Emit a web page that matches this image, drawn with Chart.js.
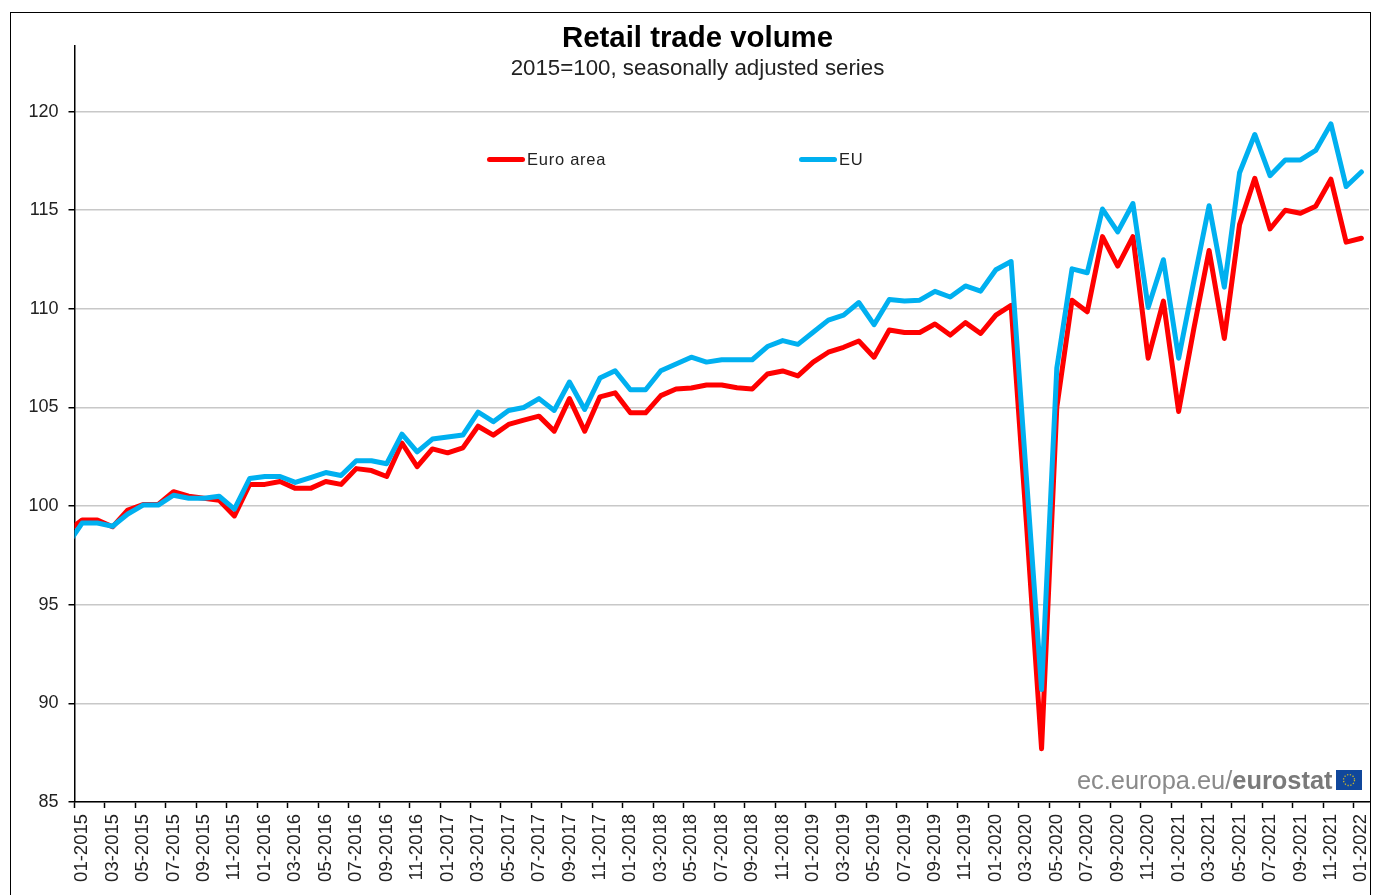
<!DOCTYPE html>
<html>
<head>
<meta charset="utf-8">
<title>Retail trade volume</title>
<script src="https://cdn.jsdelivr.net/npm/chart.js@4"></script>
<style>
    html, body { margin: 0; padding: 0; background: #fff; overflow: hidden; }
    body { width: 1376px; height: 895px; position: relative; font-family: "Liberation Sans", Arial, sans-serif; }
    #grafico { position: absolute; left: 0; top: 0; }
    #moldura { position: absolute; left: 10px; top: 12px; width: 1359px; height: 900px; border: 1.5px solid #000; pointer-events: none; }
    .legenda { position: absolute; top: 149px; height: 20px; line-height: 20px; font-size: 16.5px; letter-spacing: .75px; color: #222; white-space: nowrap; }
    .legenda i { display: inline-block; width: 38px; height: 5px; border-radius: 3px; vertical-align: middle; margin-right: 2px; position: relative; top: -1px; }
    #marca { position: absolute; left: 1077px; top: 765px; height: 30px; line-height: 30px; font-size: 25.4px; color: #8a8a8a; white-space: nowrap; }
    #marca b { color: #7a7a7a; }
    #bandeira { position: absolute; left: 1336px; top: 770px; }
</style>
</head>
<body>
<canvas id="grafico" width="1376" height="895"></canvas>
<div id="moldura"></div>
<div id="marca">ec.europa.eu/<b>eurostat</b></div>
<svg id="bandeira" width="26" height="20" viewBox="0 0 26 20">
    <rect width="26" height="20" fill="#10479c"/>
    <circle cx="13" cy="10" r="5.5" fill="none" stroke="#c9b62a" stroke-width="1.3" stroke-dasharray="1.3 1.6"/>
</svg>
<script>
const titulo = 'Retail trade volume';
const subtitulo = '2015=100, seasonally adjusted series';

const categorias = [
    '01-2015','02-2015','03-2015','04-2015','05-2015','06-2015','07-2015','08-2015','09-2015','10-2015','11-2015','12-2015',
    '01-2016','02-2016','03-2016','04-2016','05-2016','06-2016','07-2016','08-2016','09-2016','10-2016','11-2016','12-2016',
    '01-2017','02-2017','03-2017','04-2017','05-2017','06-2017','07-2017','08-2017','09-2017','10-2017','11-2017','12-2017',
    '01-2018','02-2018','03-2018','04-2018','05-2018','06-2018','07-2018','08-2018','09-2018','10-2018','11-2018','12-2018',
    '01-2019','02-2019','03-2019','04-2019','05-2019','06-2019','07-2019','08-2019','09-2019','10-2019','11-2019','12-2019',
    '01-2020','02-2020','03-2020','04-2020','05-2020','06-2020','07-2020','08-2020','09-2020','10-2020','11-2020','12-2020',
    '01-2021','02-2021','03-2021','04-2021','05-2021','06-2021','07-2021','08-2021','09-2021','10-2021','11-2021','12-2021',
    '01-2022'
];

const euroArea = [
    99.3, 99.3, 98.95, 99.8, 100.08, 100.08, 100.73, 100.5, 100.4, 100.3, 99.5, 101.1,
    101.1, 101.25, 100.9, 100.9, 101.25, 101.1, 101.9, 101.8, 101.5, 103.2, 102.0, 102.9,
    102.7, 102.95, 104.05, 103.6, 104.14, 104.36, 104.56, 103.8, 105.45, 103.8, 105.54, 105.74,
    104.73, 104.73, 105.6, 105.94, 105.99, 106.14, 106.14, 106.0, 105.94, 106.7, 106.85, 106.6,
    107.3, 107.8, 108.05, 108.37, 107.55, 108.93, 108.8, 108.8, 109.23, 108.67, 109.3, 108.75,
    109.68, 110.18, 99.2, 87.7, 105.0, 110.44, 109.85, 113.66, 112.17, 113.66, 107.5, 110.39,
    104.8, 109.0, 112.96, 108.5, 114.27, 116.62, 114.05, 115.0, 114.85, 115.2, 116.57, 113.38,
    113.58
];

const eu = [
    99.14, 99.14, 98.98, 99.6, 100.05, 100.05, 100.55, 100.4, 100.4, 100.5, 99.85, 101.4,
    101.5, 101.5, 101.2, 101.45, 101.7, 101.55, 102.3, 102.3, 102.15, 103.65, 102.75, 103.4,
    103.5, 103.6, 104.77, 104.28, 104.85, 105.0, 105.45, 104.85, 106.29, 104.9, 106.49, 106.86,
    105.9, 105.9, 106.86, 107.2, 107.55, 107.3, 107.42, 107.42, 107.42, 108.09, 108.39, 108.2,
    108.81, 109.43, 109.68, 110.32, 109.2, 110.47, 110.4, 110.44, 110.89, 110.6, 111.16, 110.9,
    111.98, 112.4, 101.5, 90.7, 107.0, 112.03, 111.83, 115.06, 113.9, 115.34, 110.07, 112.49,
    107.5, 111.4, 115.23, 111.1, 116.9, 118.84, 116.75, 117.55, 117.55, 118.03, 119.38, 116.2,
    116.94
];

// 12-2014, before the axis: only the stub of its segment shows
const euroAreaAntes = 98.7;
const euAntes = 98.0;

const fonte = '"Liberation Sans", Arial, sans-serif';

function pontos(valores, antes) {
    const lista = [{ x: -0.5, y: antes }];
    valores.forEach((v, i) => lista.push({ x: i + 0.5, y: v }));
    return lista;
}

const grafico = new Chart(document.getElementById('grafico'), {
    type: 'line',
    data: {
        datasets: [
            { label: 'Euro area', data: pontos(euroArea, euroAreaAntes), borderColor: '#ff0000', backgroundColor: '#ff0000', order: 2 },
            { label: 'EU', data: pontos(eu, euAntes), borderColor: '#00b0f0', backgroundColor: '#00b0f0', order: 1 }
        ]
    },
    options: {
        responsive: false,
        animation: false,
        layout: { autoPadding: false, padding: { left: 18, right: -1 } },
        elements: {
            line: { borderWidth: 5, tension: 0, borderJoinStyle: 'round', borderCapStyle: 'round' },
            point: { radius: 0 }
        },
        datasets: { line: { clip: 0 } },
        plugins: {
            legend: { display: false },
            tooltip: { enabled: false },
            title: {
                display: true,
                text: titulo,
                color: '#000',
                font: { family: fonte, size: 29.4, weight: 'bold', lineHeight: 1 },
                padding: { top: 23.8, bottom: -7.7 }
            },
            subtitle: {
                display: true,
                text: subtitulo,
                color: '#222',
                font: { family: fonte, size: 22.3, lineHeight: 1 },
                padding: { top: 11.85, bottom: -34.15 }
            }
        },
        scales: {
            x: {
                type: 'linear',
                min: 0,
                max: 85,
                afterFit: s => { s.height = 93; s.paddingRight = 7; },
                grid: { drawOnChartArea: false, tickLength: 6, tickColor: '#000', tickWidth: 1.5 },
                border: { color: '#000', width: 1.5 },
                ticks: {
                    stepSize: 2,
                    includeBounds: false,
                    autoSkip: false,
                    minRotation: 90,
                    maxRotation: 90,
                    labelOffset: 7.6,
                    padding: 6,
                    color: '#222',
                    font: { family: fonte, size: 18.5 },
                    callback: v => categorias[v]
                }
            },
            y: {
                min: 85,
                max: 123.35,
                afterFit: s => { s.width = 56.5; },
                grid: { color: '#c8c8c8', lineWidth: 1.5, tickLength: 6, tickColor: '#000', tickWidth: 1.5 },
                border: { color: '#000', width: 1.5 },
                ticks: {
                    stepSize: 5,
                    includeBounds: false,
                    padding: 10,
                    color: '#222',
                    font: { family: fonte, size: 18 }
                }
            }
        }
    }
});

// legend sits inside the plot, far apart, so it is built outside the canvas
const posicoesLegenda = [487, 799];
grafico.data.datasets.forEach((ds, i) => {
    const item = document.createElement('div');
    item.className = 'legenda';
    item.style.left = posicoesLegenda[i] + 'px';
    const traco = document.createElement('i');
    traco.style.background = ds.borderColor;
    item.appendChild(traco);
    item.appendChild(document.createTextNode(ds.label));
    document.body.appendChild(item);
});
</script>
</body>
</html>
